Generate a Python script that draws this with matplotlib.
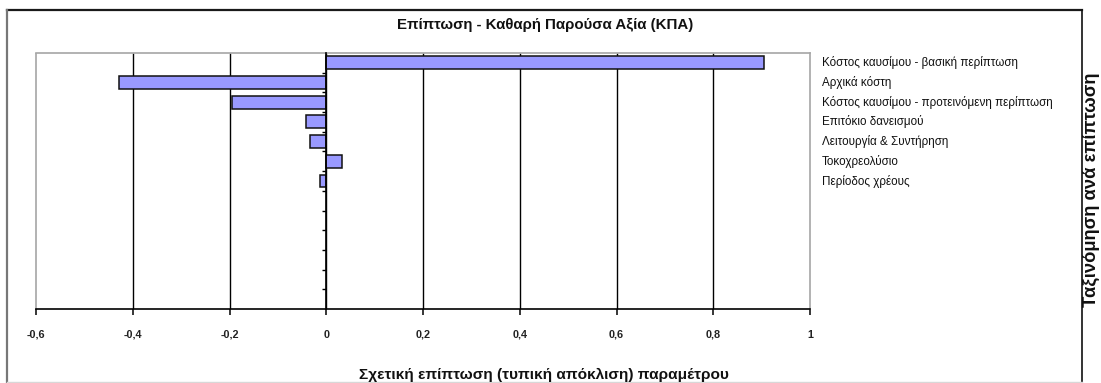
import matplotlib
matplotlib.use("Agg")
import matplotlib.pyplot as plt
from matplotlib.patches import Rectangle
from matplotlib.lines import Line2D

plt.rcParams['font.family'] = ['Liberation Sans', 'DejaVu Sans']

# Sensitivity of NPV to each parameter (relative impact, std. deviations)
parameters = [
    "Κόστος καυσίμου - βασική περίπτωση",
    "Αρχικά κόστη",
    "Κόστος καυσίμου - προτεινόμενη περίπτωση",
    "Επιτόκιο δανεισμού",
    "Λειτουργία & Συντήρηση",
    "Τοκοχρεολύσιο",
    "Περίοδος χρέους",
]
impacts = [0.905, -0.429, -0.195, -0.041, -0.034, 0.032, -0.012]
n_slots = 13  # rows reserved on the category axis

x_ticks = [-0.6, -0.4, -0.2, 0.0, 0.2, 0.4, 0.6, 0.8, 1.0]
x_tick_labels = ["-0,6", "-0,4", "-0,2", "0", "0,2", "0,4", "0,6", "0,8", "1"]

title = "Επίπτωση - Καθαρή Παρούσα Αξία (ΚΠΑ)"
x_label = "Σχετική επίπτωση (τυπική απόκλιση) παραμέτρου"
side_label = "Ταξινόμηση ανά επίπτωση"

W, H = 1101, 383
fig = plt.figure(figsize=(W / 100, H / 100), dpi=100)
fig.patch.set_facecolor("white")

# outer chart frame
fig.add_artist(Line2D([7 / W, 1082 / W], [1 - 10 / H, 1 - 10 / H], color="#1a1a1a", lw=1.6))
fig.add_artist(Line2D([7 / W, 7 / W], [1 - 10 / H, 0], color="#777777", lw=1.6))
fig.add_artist(Line2D([1082 / W, 1082 / W], [1 - 10 / H, 0], color="#111111", lw=1.2))
fig.add_artist(Line2D([7 / W, 1082 / W], [1 - 382 / H, 1 - 382 / H], color="#d8d8d8", lw=1.0))

left, right, top, bottom = 36, 810, 53, 309
ax = fig.add_axes([left / W, 1 - bottom / H, (right - left) / W, (bottom - top) / H])

ypos = [i + 0.5 for i in range(len(parameters))]
ax.barh(ypos, impacts, height=0.66, color="#9999ff", edgecolor="#111111", linewidth=1.1, zorder=3)

ax.set_xlim(x_ticks[0], x_ticks[-1])
ax.set_ylim(n_slots, 0)

# interior vertical gridlines
ax.vlines(x_ticks[1:-1], 0, 1, transform=ax.get_xaxis_transform(), color="black", lw=1.0, zorder=1)

# plot area border (grey) on top, left and right
for s in ("top", "right"):
    ax.spines[s].set_color("#a6a6a6")
    ax.spines[s].set_linewidth(1.2)
ax.spines["bottom"].set_color("black")
ax.spines["bottom"].set_linewidth(1.2)
ax.spines["left"].set_position(("data", 0))
ax.spines["left"].set_color("black")
ax.spines["left"].set_linewidth(1.2)
ax.add_patch(Rectangle((0, 0), 0.0005, 1, transform=ax.transAxes, fill=False,
                       edgecolor="#a6a6a6", lw=1.2, clip_on=False, zorder=0))
ax.spines["left"].set_zorder(4)

ax.set_xticks(x_ticks)
ax.set_xticklabels(x_tick_labels, fontsize=7.8, fontweight="bold", color="#222222")
ax.tick_params(axis="x", direction="out", length=4, width=1.1, pad=11)
ax.set_yticks(range(1, n_slots))
ax.set_yticklabels([])
ax.tick_params(axis="y", direction="out", length=3, width=1.0)

# parameter names beside the plot
for y, name in zip(ypos, parameters):
    ax.text(1.0155, y, name, transform=ax.get_yaxis_transform(), ha="left", va="center",
            fontsize=8.35, color="#111111", clip_on=False)

fig.text(545 / W, 1 - 25 / H, title, ha="center", va="center", fontsize=10.8,
         fontweight="bold", color="#111111")
fig.text(544 / W, 1 - 375 / H, x_label, ha="center", va="center", fontsize=11.1,
         fontweight="bold", color="#111111")
fig.text(1091 / W, 1 - 190 / H, side_label, ha="center", va="center", rotation=90,
         fontsize=13.2, fontweight="bold", color="#111111")

fig.savefig("out.png", dpi=100)
